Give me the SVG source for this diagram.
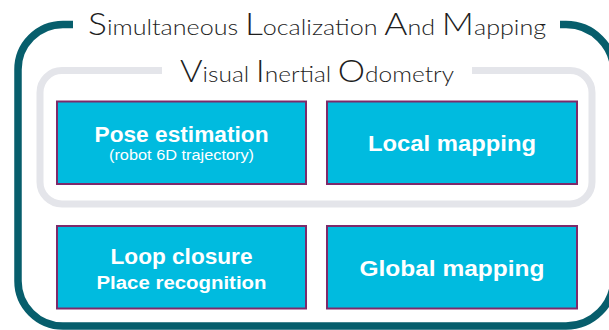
<svg xmlns="http://www.w3.org/2000/svg" width="609" height="330" viewBox="0 0 609 330">
<style>
.frame{fill:none;stroke:#075e6c;stroke-width:7.5}
.vio{fill:none;stroke:#e4e5ea;stroke-width:7}
.box{fill:#00bbdf;stroke:#7d2a6a;stroke-width:2}
.title{font-family:"Lato","Liberation Sans",sans-serif;font-weight:300;fill:#1e1e1e}
.big{font-size:31px}
.small{font-size:22px}
.lbl{font-family:"Liberation Sans",Arial,sans-serif;font-weight:bold;fill:#ffffff;text-anchor:middle}
.sub{font-family:"Liberation Sans",Arial,sans-serif;fill:#ffffff;text-anchor:middle;font-size:14px}
</style>
<rect width="609" height="330" fill="#ffffff"/>
<g id="slam">
<path class="frame" d="M73,24.5 H63 A45,45 0 0 0 18,69.5 V281 A45,45 0 0 0 63,326 H566 A48,48 0 0 0 614,278 V72.5 A48,48 0 0 0 566,24.5 H560"/>
<text class="title" x="88" y="35" textLength="458" lengthAdjust="spacingAndGlyphs"><tspan class="big">S</tspan><tspan class="small">imultaneous </tspan><tspan class="big">L</tspan><tspan class="small">ocalization </tspan><tspan class="big">A</tspan><tspan class="small">nd </tspan><tspan class="big">M</tspan><tspan class="small">apping</tspan></text>
</g>
<g id="vio">
<path class="vio" d="M162,70.5 H62 A22,22 0 0 0 40,92.5 V182 A22,22 0 0 0 62,204 H570 A22,22 0 0 0 592,182 V92.5 A22,22 0 0 0 570,70.5 H472"/>
<text class="title" x="180" y="82" textLength="274" lengthAdjust="spacingAndGlyphs"><tspan class="big">V</tspan><tspan class="small">isual </tspan><tspan class="big">I</tspan><tspan class="small">nertial </tspan><tspan class="big">O</tspan><tspan class="small">dometry</tspan></text>
</g>
<g id="pose">
<rect class="box" x="57" y="101.5" width="249" height="82.5"/>
<text class="lbl" x="181.5" y="141.5" font-size="22" textLength="174" lengthAdjust="spacingAndGlyphs">Pose estimation</text>
<text class="sub" x="181.5" y="160" textLength="145" lengthAdjust="spacingAndGlyphs">(robot 6D trajectory)</text>
</g>
<g id="local">
<rect class="box" x="327" y="101.5" width="250" height="82.5"/>
<text class="lbl" x="452" y="151" font-size="22" textLength="168" lengthAdjust="spacingAndGlyphs">Local mapping</text>
</g>
<g id="loop">
<rect class="box" x="57" y="226" width="249" height="82.5"/>
<text class="lbl" x="181.5" y="264" font-size="22" textLength="142" lengthAdjust="spacingAndGlyphs">Loop closure</text>
<text class="lbl" x="181.5" y="289" font-size="18" textLength="170" lengthAdjust="spacingAndGlyphs">Place recognition</text>
</g>
<g id="global">
<rect class="box" x="327" y="226" width="250" height="82.5"/>
<text class="lbl" x="452" y="276" font-size="22" textLength="185" lengthAdjust="spacingAndGlyphs">Global mapping</text>
</g>
<g id="connectors"></g>
</svg>
